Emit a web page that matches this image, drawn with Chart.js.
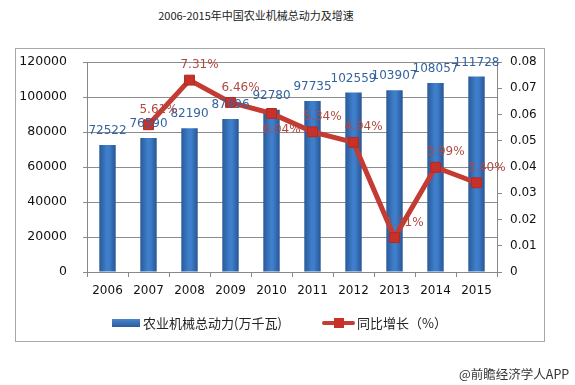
<!DOCTYPE html>
<html><head><meta charset="utf-8">
<script src="https://cdn.jsdelivr.net/npm/chart.js@4.4.1/dist/chart.umd.min.js"></script>
<style>
html,body{margin:0;padding:0;background:#fff;}
#wrap{position:relative;width:575px;height:385px;overflow:hidden;font-family:"DejaVu Sans",sans-serif;}
#title{position:absolute;left:0;width:512px;top:7px;text-align:center;font:11px "Noto Sans CJK SC",sans-serif;color:#222;}
#box{position:absolute;left:15px;top:48px;width:530px;height:294px;border:1px solid #a8a8a8;box-sizing:border-box;}
canvas{position:absolute;left:0;top:0;}
.lg{position:absolute;top:313px;font:13px "Noto Sans CJK SC",sans-serif;color:#222;white-space:nowrap;}
#foot{position:absolute;left:459px;top:364px;font:12.5px "Noto Sans CJK SC",sans-serif;color:#333;}
</style></head>
<body><div id="wrap">
<div id="title">2006-2015年中国农业机械总动力及增速</div>
<div id="box"></div>
<canvas id="c" width="575" height="385"></canvas>
<div class="lg" style="left:112px;"><span style="display:inline-block;width:28px;height:8px;background:linear-gradient(#4a85cc,#2a5d9e);vertical-align:middle;margin-right:3px;position:relative;top:-1px;"></span>农业机械总动力(万千瓦)</div>
<div class="lg" style="left:322px;"><span style="display:inline-block;position:relative;width:33px;height:10px;vertical-align:middle;margin-right:2px;top:-1px;"><span style="position:absolute;left:0;top:3px;width:33px;height:4px;background:#c33b32;border-radius:2px;"></span><span style="position:absolute;left:12px;top:0;width:10px;height:10px;background:#c8302a;"></span></span>同比增长（%）</div>
<div id="foot">@前瞻经济学人APP</div>
</div>
<script>
const years = ['2006','2007','2008','2009','2010','2011','2012','2013','2014','2015'];
const power = [72522, 76590, 82190, 87496, 92780, 97735, 102559, 103907, 108057, 111728];
const growth = [null, 0.0561, 0.0731, 0.0646, 0.0604, 0.0534, 0.0494, 0.0131, 0.0399, 0.0340];
const growthLabels = ['', '5.61%', '7.31%', '6.46%', '6.04%', '5.34%', '4.94%', '1.31%', '3.99%', '3.40%'];
const leftTicks = [0, 20000, 40000, 60000, 80000, 100000, 120000];
const rightTicks = [0, 0.01, 0.02, 0.03, 0.04, 0.05, 0.06, 0.07, 0.08];
const growthLabelBelow = [false,false,false,false,true,false,false,false,false,false];

const labelPlugin = {
  id:'labels',
  afterDatasetsDraw(chart){
    const ctx = chart.ctx;
    ctx.save();
    ctx.font = '12px "DejaVu Sans", sans-serif';
    ctx.textAlign = 'center';
    ctx.textBaseline = 'middle';
    const bars = chart.getDatasetMeta(1).data;
    ctx.fillStyle = '#34649f';
    bars.forEach((el,i)=>{
      ctx.fillText(String(power[i]), el.x, el.y - 14);
    });
    const pts = chart.getDatasetMeta(0).data;
    ctx.fillStyle = '#b04a40';
    pts.forEach((el,i)=>{
      if (growth[i] == null) return;
      const dy = growthLabelBelow[i] ? 16 : -15;
      ctx.fillText(growthLabels[i], el.x + 10, el.y + dy);
    });
    ctx.restore();
  }
};

function barFill(c){
  const chart = c.chart;
  const xs = chart.scales && chart.scales.x;
  if (!chart.chartArea || !xs || c.dataIndex == null) return '#2f6db5';
  const x = xs.getPixelForValue(c.dataIndex);
  const w = (chart.chartArea.right - chart.chartArea.left) / years.length * 0.4;
  if (!isFinite(x) || !isFinite(w)) return '#2f6db5';
  const g = chart.ctx.createLinearGradient(x - w/2, 0, x + w/2, 0);
  g.addColorStop(0,'#2a5a98'); g.addColorStop(0.45,'#3e7ecb'); g.addColorStop(0.6,'#3e7ecb'); g.addColorStop(1,'#275694');
  return g;
}

const ctx = document.getElementById('c').getContext('2d');
new Chart(ctx, {
  data:{
    labels: years,
    datasets:[
      {type:'line', label:'同比增长（%）', data: growth, yAxisID:'y2', order:0,
       borderColor:'#c33b32', borderWidth:5, pointStyle:'rect', pointRadius:7, pointHoverRadius:7,
       pointBackgroundColor:'#c8302a', pointBorderColor:'#b02a25', pointBorderWidth:1, tension:0, spanGaps:false},
      {type:'bar', label:'农业机械总动力(万千瓦)', data: power, yAxisID:'y', order:1,
       barPercentage:0.4, categoryPercentage:1.0, backgroundColor: barFill}
    ]
  },
  options:{
    responsive:false, animation:false,
    layout:{padding:{left:15, right:0, top:62, bottom:0}},
    plugins:{legend:{display:false}, tooltip:{enabled:false}, title:{display:false}},
    scales:{
      x:{
        offset:true,
        grid:{offset:true, drawOnChartArea:false, drawTicks:true, tickLength:5, color:'#888'},
        border:{display:true, color:'#888'},
        ticks:{color:'#111', font:{family:'DejaVu Sans', size:12}, padding:7, maxRotation:0},
        afterFit(s){ s.height = 113; }
      },
      y:{
        position:'left', min:0, max:120000,
        afterBuildTicks(s){ s.ticks = leftTicks.map(v=>({value:v})); },
        grid:{color:'#8c8c8c', tickLength:4},
        border:{display:true, color:'#888'},
        ticks:{color:'#111', font:{family:'DejaVu Sans', size:12.5}, padding:16, callback:(v)=>String(v)},
        afterFit(s){ s.width = 72; }
      },
      y2:{
        position:'right', min:0, max:0.08,
        afterBuildTicks(s){ s.ticks = rightTicks.map(v=>({value:v})); },
        grid:{drawOnChartArea:false, tickLength:5, color:'#888'},
        border:{display:true, color:'#888'},
        ticks:{color:'#111', font:{family:'DejaVu Sans', size:12}, padding:8,
               callback:(v)=> (v===0 ? '0' : String(+v.toFixed(2)))},
        afterFit(s){ s.width = 78; }
      }
    }
  },
  plugins:[labelPlugin]
});
</script>
</body></html>
